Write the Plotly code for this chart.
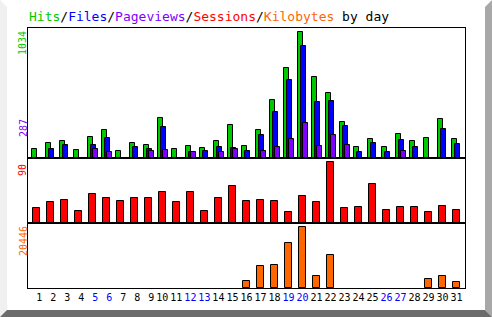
import plotly.graph_objects as go

days = list(range(1, 32))
weekend_days = [5, 6, 12, 13, 19, 20, 26, 27]

hits = [74, 123, 140, 66, 172, 230, 57, 123, 107, 328, 74, 98, 82, 140, 271, 98,
        230, 476, 739, 1034, 665, 533, 295, 90, 156, 90, 197, 140, 164, 320, 156]
files = [0, 74, 107, 0, 107, 164, 0, 90, 74, 254, 0, 49, 57, 90, 82, 57,
         189, 377, 640, 919, 460, 468, 263, 49, 123, 49, 148, 90, 0, 238, 115]
pageviews = [0, 0, 0, 0, 74, 49, 0, 0, 57, 66, 0, 49, 0, 49, 74, 0,
             57, 90, 156, 287, 98, 189, 107, 0, 0, 0, 57, 0, 0, 0, 0]
sessions = [22, 31, 34, 18, 43, 37, 32, 37, 37, 46, 31, 46, 18, 37, 55, 32,
            34, 32, 16, 40, 31, 90, 22, 24, 58, 19, 24, 24, 16, 25, 19]
kilobytes = [0, 0, 0, 0, 0, 0, 0, 0, 0, 0, 0, 0, 0, 0, 0, 2346,
             7374, 7710, 15083, 20446, 4022, 11061, 0, 0, 0, 0, 0, 0, 3017, 4022, 2011]

max_hits = 1034
max_pages = 287
max_sessions = 90
max_kb = 20446

C_HITS = "#00c800"
C_FILES = "#0000ff"
C_PAGES = "#8000ff"
C_SESS = "#ff0000"
C_KB = "#ff6600"

W, H = 492, 317
ML, MR, MT, MB = 28, 27, 28, 29
PW = W - ML - MR
PH = H - MT - MB


def px(x):
    return (x - ML) / PW


def py(y):
    return (H - MB - y) / PH


def nz(vals):
    # zero-valued days draw no bar at all
    return [v if v else None for v in vals]


line = dict(color="black", width=1)
fig = go.Figure()

# top panel bars
bw = 0.39
fig.add_trace(go.Bar(x=days, y=nz(hits), width=bw, offset=-0.143 - bw / 2,
                     marker=dict(color=C_HITS, line=line), xaxis="x", yaxis="y"))
fig.add_trace(go.Bar(x=days, y=nz(files), width=bw, offset=0.071 - bw / 2,
                     marker=dict(color=C_FILES, line=line), xaxis="x", yaxis="y"))
fig.add_trace(go.Bar(x=days, y=nz(pageviews), width=bw, offset=0.214 - bw / 2,
                     marker=dict(color=C_PAGES, line=line), xaxis="x", yaxis="y"))
# sessions
fig.add_trace(go.Bar(x=days, y=nz(sessions), width=0.53,
                     marker=dict(color=C_SESS, line=line), xaxis="x2", yaxis="y2"))
# kilobytes
fig.add_trace(go.Bar(x=days, y=nz(kilobytes), width=0.53,
                     marker=dict(color=C_KB, line=line), xaxis="x3", yaxis="y3"))

xr = [0.407, 31.607]
ticktext = []
for d in days:
    t = str(d) if d >= 10 else "\u00a0" + str(d)
    col = "#0000ff" if d in weekend_days else "#000000"
    ticktext.append(f"<span style='color:{col}'>{t}</span>")

common_x = dict(range=xr, showgrid=False, zeroline=False, showline=True, mirror=True,
                linecolor="black", linewidth=1, ticks="", fixedrange=True)
common_y = dict(showgrid=False, zeroline=False, showline=True, mirror=True,
                linecolor="black", linewidth=1, ticks="", showticklabels=False)

fig.update_layout(
    width=W, height=H,
    margin=dict(l=ML, r=MR, t=MT, b=MB, pad=0),
    paper_bgcolor="white", plot_bgcolor="white",
    barmode="overlay", showlegend=False, bargap=0,
    font=dict(family="DejaVu Sans Mono", size=10, color="black"),
    xaxis=dict(common_x, anchor="y", showticklabels=False),
    yaxis=dict(common_y, domain=[0.5, 1], anchor="x", range=[0, max_hits * 130 / 126]),
    xaxis2=dict(common_x, anchor="y2", showticklabels=False),
    yaxis2=dict(common_y, domain=[0.25, 0.5], anchor="x2", range=[0, max_sessions * 65 / 61]),
    xaxis3=dict(common_x, anchor="y3", showticklabels=True, tickmode="array",
                tickvals=days, ticktext=ticktext, tickangle=0,
                tickfont=dict(family="DejaVu Sans Mono", size=10)),
    yaxis3=dict(common_y, domain=[0, 0.25], anchor="x3", range=[0, max_kb * 65 / 61]),
)

title = (f"<span style='color:{C_HITS}'>Hits</span>/"
         f"<span style='color:{C_FILES}'>Files</span>/"
         f"<span style='color:{C_PAGES}'>Pageviews</span>/"
         f"<span style='color:{C_SESS}'>Sessions</span>/"
         f"<span style='color:{C_KB}'>Kilobytes</span> by day")
annotations = [
    dict(text=title, xref="paper", yref="paper", x=px(28), y=py(17), xanchor="left",
         yanchor="middle", showarrow=False, font=dict(family="DejaVu Sans Mono", size=13)),
    dict(text=str(max_hits), xref="paper", yref="paper", x=px(23), y=py(30), textangle=-90,
         xanchor="center", yanchor="top", showarrow=False, font=dict(color=C_HITS, size=10)),
    dict(text=str(max_pages), xref="paper", yref="paper", x=px(23), y=py(118), textangle=-90,
         xanchor="center", yanchor="top", showarrow=False, font=dict(color=C_PAGES, size=10)),
    dict(text=str(max_sessions), xref="paper", yref="paper", x=px(23), y=py(163), textangle=-90,
         xanchor="center", yanchor="top", showarrow=False, font=dict(color=C_SESS, size=10)),
    dict(text=str(max_kb), xref="paper", yref="paper", x=px(23), y=py(225), textangle=-90,
         xanchor="center", yanchor="top", showarrow=False, font=dict(color=C_KB, size=10)),
]
for a in annotations:
    a["borderpad"] = 0
fig.update_layout(annotations=annotations)


def poly(points, color):
    path = "M " + " L ".join(f"{px(x)},{py(y)}" for x, y in points) + " Z"
    return dict(type="path", xref="paper", yref="paper", path=path,
                fillcolor=color, line=dict(width=0), layer="below")


fig.update_layout(shapes=[
    poly([(0, 0), (7, 7), (7, 310), (0, 317)], "#f0f0f0"),
    poly([(492, 0), (485, 7), (485, 310), (492, 317)], "#a8a8a8"),
    poly([(0, 317), (7, 310), (485, 310), (492, 317)], "#6c6c6c"),
])

fig.write_html("out.html")
